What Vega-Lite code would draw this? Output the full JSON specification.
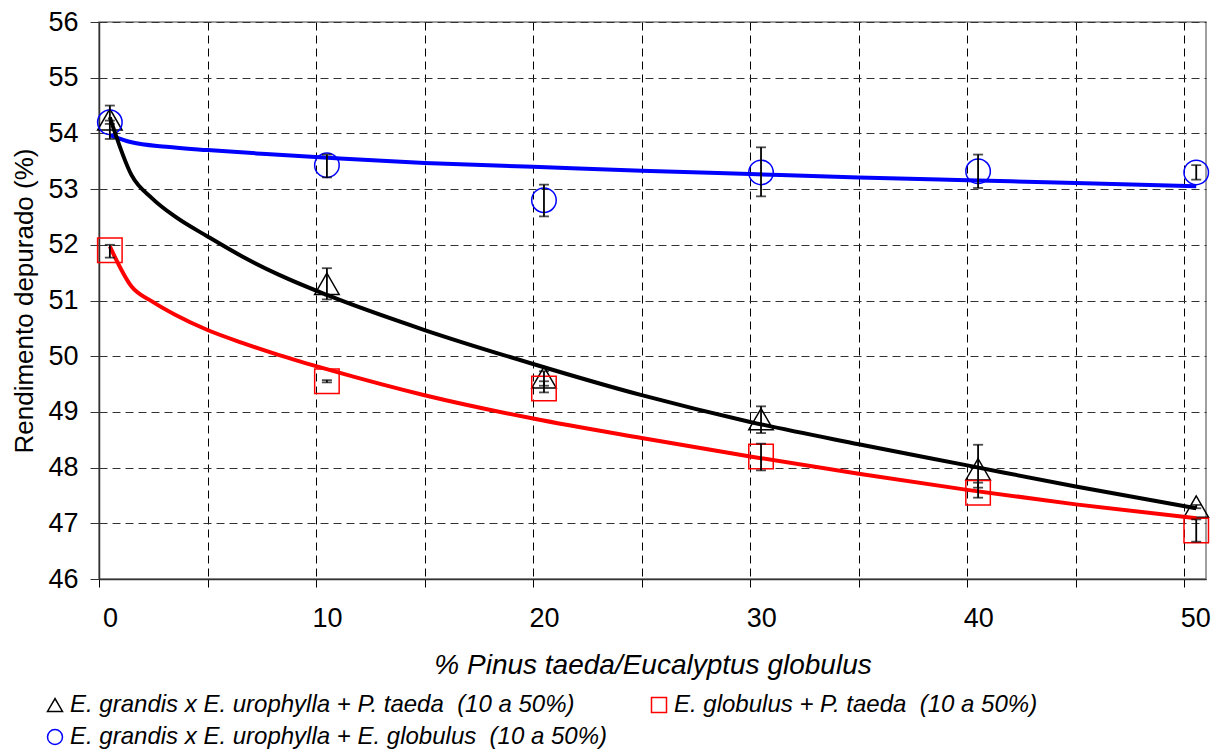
{
  "$schema": "https://vega.github.io/schema/vega-lite/v6.json",
  "width": 1107,
  "height": 557,
  "autosize": {"type": "none"},
  "padding": {"left": 99, "top": 22, "right": 14, "bottom": 170},
  "background": "white",
  "config": {
    "font": "Liberation Sans",
    "view": {"stroke": "#808080", "strokeWidth": 1.5}
  },
  "datasets": {
    "pts": [
      {"series": "E. grandis x E. urophylla + P. taeda \u00a0(10 a 50%)", "x": 0.5, "y": 54.25, "lo": 53.9, "hi": 54.5},
      {"series": "E. grandis x E. urophylla + P. taeda \u00a0(10 a 50%)", "x": 10.5, "y": 51.3, "lo": 51.02, "hi": 51.58},
      {"series": "E. grandis x E. urophylla + P. taeda \u00a0(10 a 50%)", "x": 20.5, "y": 49.62, "lo": 49.47, "hi": 49.73},
      {"series": "E. grandis x E. urophylla + P. taeda \u00a0(10 a 50%)", "x": 30.5, "y": 48.87, "lo": 48.62, "hi": 49.1},
      {"series": "E. grandis x E. urophylla + P. taeda \u00a0(10 a 50%)", "x": 40.5, "y": 47.97, "lo": 47.64, "hi": 48.41},
      {"series": "E. grandis x E. urophylla + P. taeda \u00a0(10 a 50%)", "x": 50.55, "y": 47.3, "lo": 47.27, "hi": 47.33},
      {"series": "E. globulus + P. taeda \u00a0(10 a 50%)", "x": 0.5, "y": 51.9, "lo": 51.77, "hi": 52.0},
      {"series": "E. globulus + P. taeda \u00a0(10 a 50%)", "x": 10.5, "y": 49.55, "lo": 49.53, "hi": 49.57},
      {"series": "E. globulus + P. taeda \u00a0(10 a 50%)", "x": 20.5, "y": 49.42, "lo": 49.35, "hi": 49.55},
      {"series": "E. globulus + P. taeda \u00a0(10 a 50%)", "x": 30.5, "y": 48.2, "lo": 47.95, "hi": 48.43},
      {"series": "E. globulus + P. taeda \u00a0(10 a 50%)", "x": 40.5, "y": 47.55, "lo": 47.46, "hi": 47.73},
      {"series": "E. globulus + P. taeda \u00a0(10 a 50%)", "x": 50.55, "y": 46.87, "lo": 46.67, "hi": 47.07},
      {"series": "E. grandis x E. urophylla + E. globulus \u00a0(10 a 50%)", "x": 0.5, "y": 54.2, "lo": 54.17, "hi": 54.23},
      {"series": "E. grandis x E. urophylla + E. globulus \u00a0(10 a 50%)", "x": 10.5, "y": 53.43, "lo": 53.21, "hi": 53.62},
      {"series": "E. grandis x E. urophylla + E. globulus \u00a0(10 a 50%)", "x": 20.5, "y": 52.8, "lo": 52.51, "hi": 53.08},
      {"series": "E. grandis x E. urophylla + E. globulus \u00a0(10 a 50%)", "x": 30.5, "y": 53.3, "lo": 52.87, "hi": 53.75},
      {"series": "E. grandis x E. urophylla + E. globulus \u00a0(10 a 50%)", "x": 40.5, "y": 53.32, "lo": 53.02, "hi": 53.62},
      {"series": "E. grandis x E. urophylla + E. globulus \u00a0(10 a 50%)", "x": 50.55, "y": 53.3, "lo": 53.17, "hi": 53.43}
    ],
    "curves": [
      {"series": "E. grandis x E. urophylla + E. globulus \u00a0(10 a 50%)", "x": 0.5, "y": 53.97},
      {"series": "E. grandis x E. urophylla + E. globulus \u00a0(10 a 50%)", "x": 1.5, "y": 53.84},
      {"series": "E. grandis x E. urophylla + E. globulus \u00a0(10 a 50%)", "x": 3.1, "y": 53.76},
      {"series": "E. grandis x E. urophylla + E. globulus \u00a0(10 a 50%)", "x": 5, "y": 53.7},
      {"series": "E. grandis x E. urophylla + E. globulus \u00a0(10 a 50%)", "x": 7.7, "y": 53.63},
      {"series": "E. grandis x E. urophylla + E. globulus \u00a0(10 a 50%)", "x": 11.1, "y": 53.55},
      {"series": "E. grandis x E. urophylla + E. globulus \u00a0(10 a 50%)", "x": 15, "y": 53.47},
      {"series": "E. grandis x E. urophylla + E. globulus \u00a0(10 a 50%)", "x": 20, "y": 53.4},
      {"series": "E. grandis x E. urophylla + E. globulus \u00a0(10 a 50%)", "x": 25, "y": 53.33},
      {"series": "E. grandis x E. urophylla + E. globulus \u00a0(10 a 50%)", "x": 30, "y": 53.27},
      {"series": "E. grandis x E. urophylla + E. globulus \u00a0(10 a 50%)", "x": 35, "y": 53.21},
      {"series": "E. grandis x E. urophylla + E. globulus \u00a0(10 a 50%)", "x": 40, "y": 53.16},
      {"series": "E. grandis x E. urophylla + E. globulus \u00a0(10 a 50%)", "x": 45, "y": 53.11},
      {"series": "E. grandis x E. urophylla + E. globulus \u00a0(10 a 50%)", "x": 50.55, "y": 53.05},
      {"series": "E. grandis x E. urophylla + P. taeda \u00a0(10 a 50%)", "x": 0.5, "y": 54.29},
      {"series": "E. grandis x E. urophylla + P. taeda \u00a0(10 a 50%)", "x": 1.5, "y": 53.25},
      {"series": "E. grandis x E. urophylla + P. taeda \u00a0(10 a 50%)", "x": 2.46, "y": 52.83},
      {"series": "E. grandis x E. urophylla + P. taeda \u00a0(10 a 50%)", "x": 3.53, "y": 52.5},
      {"series": "E. grandis x E. urophylla + P. taeda \u00a0(10 a 50%)", "x": 5, "y": 52.15},
      {"series": "E. grandis x E. urophylla + P. taeda \u00a0(10 a 50%)", "x": 6.6, "y": 51.79},
      {"series": "E. grandis x E. urophylla + P. taeda \u00a0(10 a 50%)", "x": 8.3, "y": 51.46},
      {"series": "E. grandis x E. urophylla + P. taeda \u00a0(10 a 50%)", "x": 10.5, "y": 51.1},
      {"series": "E. grandis x E. urophylla + P. taeda \u00a0(10 a 50%)", "x": 15, "y": 50.47},
      {"series": "E. grandis x E. urophylla + P. taeda \u00a0(10 a 50%)", "x": 20, "y": 49.86},
      {"series": "E. grandis x E. urophylla + P. taeda \u00a0(10 a 50%)", "x": 25, "y": 49.3},
      {"series": "E. grandis x E. urophylla + P. taeda \u00a0(10 a 50%)", "x": 30, "y": 48.82},
      {"series": "E. grandis x E. urophylla + P. taeda \u00a0(10 a 50%)", "x": 35, "y": 48.42},
      {"series": "E. grandis x E. urophylla + P. taeda \u00a0(10 a 50%)", "x": 40, "y": 48.04},
      {"series": "E. grandis x E. urophylla + P. taeda \u00a0(10 a 50%)", "x": 45, "y": 47.66},
      {"series": "E. grandis x E. urophylla + P. taeda \u00a0(10 a 50%)", "x": 50.55, "y": 47.27},
      {"series": "E. globulus + P. taeda \u00a0(10 a 50%)", "x": 0.5, "y": 51.97},
      {"series": "E. globulus + P. taeda \u00a0(10 a 50%)", "x": 1.5, "y": 51.25},
      {"series": "E. globulus + P. taeda \u00a0(10 a 50%)", "x": 2.46, "y": 50.98},
      {"series": "E. globulus + P. taeda \u00a0(10 a 50%)", "x": 3.53, "y": 50.74},
      {"series": "E. globulus + P. taeda \u00a0(10 a 50%)", "x": 5, "y": 50.47},
      {"series": "E. globulus + P. taeda \u00a0(10 a 50%)", "x": 6.6, "y": 50.24},
      {"series": "E. globulus + P. taeda \u00a0(10 a 50%)", "x": 8.3, "y": 50.02},
      {"series": "E. globulus + P. taeda \u00a0(10 a 50%)", "x": 10.65, "y": 49.75},
      {"series": "E. globulus + P. taeda \u00a0(10 a 50%)", "x": 15, "y": 49.3},
      {"series": "E. globulus + P. taeda \u00a0(10 a 50%)", "x": 20, "y": 48.88},
      {"series": "E. globulus + P. taeda \u00a0(10 a 50%)", "x": 25, "y": 48.53},
      {"series": "E. globulus + P. taeda \u00a0(10 a 50%)", "x": 30, "y": 48.2},
      {"series": "E. globulus + P. taeda \u00a0(10 a 50%)", "x": 35, "y": 47.89},
      {"series": "E. globulus + P. taeda \u00a0(10 a 50%)", "x": 40, "y": 47.6},
      {"series": "E. globulus + P. taeda \u00a0(10 a 50%)", "x": 45, "y": 47.34},
      {"series": "E. globulus + P. taeda \u00a0(10 a 50%)", "x": 50.55, "y": 47.09}
    ]
  },
  "layer": [
    {
      "data": {"name": "pts"},
      "mark": {"type": "point", "filled": false, "strokeWidth": 1.5, "size": 600, "opacity": 1},
      "encoding": {
        "x": {
          "field": "x", "type": "quantitative",
          "scale": {"domain": [0, 51], "nice": false, "zero": false},
          "axis": {
            "title": "% Pinus taeda/Eucalyptus globulus",
            "values": [0, 5, 10, 15, 20, 25, 30, 35, 40, 45, 50],
            "labelExpr": "datum.value % 10 === 0 ? datum.label : ''",
            "labelOffset": 11,
            "labelOverlap": false,
            "labelFlush": false,
            "labelBound": false,
            "labelFontSize": 27,
            "labelColor": "#000",
            "labelPadding": 18,
            "grid": true,
            "gridDash": [8, 5],
            "gridColor": "#000",
            "gridWidth": 1,
            "tickSize": 8,
            "tickColor": "#000",
            "domainColor": "#333",
            "domainWidth": 1.5,
            "titleFontSize": 28,
            "titleFontStyle": "italic",
            "titleFontWeight": "normal",
            "titleColor": "#000",
            "titlePadding": 20
          }
        },
        "y": {
          "field": "y", "type": "quantitative",
          "scale": {"domain": [46, 56], "nice": false, "zero": false},
          "axis": {
            "title": "Rendimento depurado (%)",
            "values": [46, 47, 48, 49, 50, 51, 52, 53, 54, 55, 56],
            "labelFontSize": 27,
            "labelColor": "#000",
            "labelPadding": 12,
            "grid": true,
            "gridDash": [8, 5],
            "gridColor": "#333",
            "gridWidth": 1,
            "tickSize": 9,
            "tickColor": "#333",
            "domainColor": "#333",
            "domainWidth": 1.5,
            "titleFontSize": 26,
            "titleFontWeight": "normal",
            "titleColor": "#000",
            "titlePadding": 10
          }
        },
        "color": {
          "field": "series", "type": "nominal",
          "scale": {
            "domain": ["E. grandis x E. urophylla + P. taeda \u00a0(10 a 50%)", "E. globulus + P. taeda \u00a0(10 a 50%)", "E. grandis x E. urophylla + E. globulus \u00a0(10 a 50%)"],
            "range": ["#000000", "#ff0000", "#0000ff"]
          },
          "legend": {
            "title": null,
            "orient": "none",
            "legendX": -56,
            "legendY": 671,
            "columns": 2,
            "direction": "horizontal",
            "columnPadding": 40,
            "rowPadding": 8,
            "labelFontSize": 24,
            "labelFontStyle": "italic",
            "labelColor": "#000",
            "labelOffset": 3,
            "symbolSize": 225,
            "symbolStrokeWidth": 1.5,
            "labelLimit": 900
          }
        },
        "shape": {
          "field": "series", "type": "nominal",
          "scale": {
            "domain": ["E. grandis x E. urophylla + P. taeda \u00a0(10 a 50%)", "E. globulus + P. taeda \u00a0(10 a 50%)", "E. grandis x E. urophylla + E. globulus \u00a0(10 a 50%)"],
            "range": ["triangle-up", "square", "circle"]
          },
          "legend": {
            "title": null,
            "orient": "none",
            "legendX": -56,
            "legendY": 671,
            "columns": 2,
            "direction": "horizontal",
            "columnPadding": 40,
            "rowPadding": 8,
            "labelFontSize": 24,
            "labelFontStyle": "italic",
            "labelColor": "#000",
            "labelOffset": 3,
            "symbolSize": 225,
            "symbolStrokeWidth": 1.5,
            "labelLimit": 900
          }
        }
      }
    },
    {
      "data": {"name": "curves"},
      "mark": {"type": "line", "strokeWidth": 4, "interpolate": "monotone"},
      "encoding": {
        "x": {"field": "x", "type": "quantitative"},
        "y": {"field": "y", "type": "quantitative", "title": "Rendimento depurado (%)"},
        "color": {"field": "series", "type": "nominal", "legend": null}
      }
    },
    {
      "data": {"name": "pts"},
      "mark": {"type": "errorbar", "ticks": true, "size": 10, "thickness": 1.8, "color": "#000"},
      "encoding": {
        "x": {"field": "x", "type": "quantitative"},
        "y": {"field": "lo", "type": "quantitative", "title": "Rendimento depurado (%)"},
        "y2": {"field": "hi"}
      }
    }
  ]
}
